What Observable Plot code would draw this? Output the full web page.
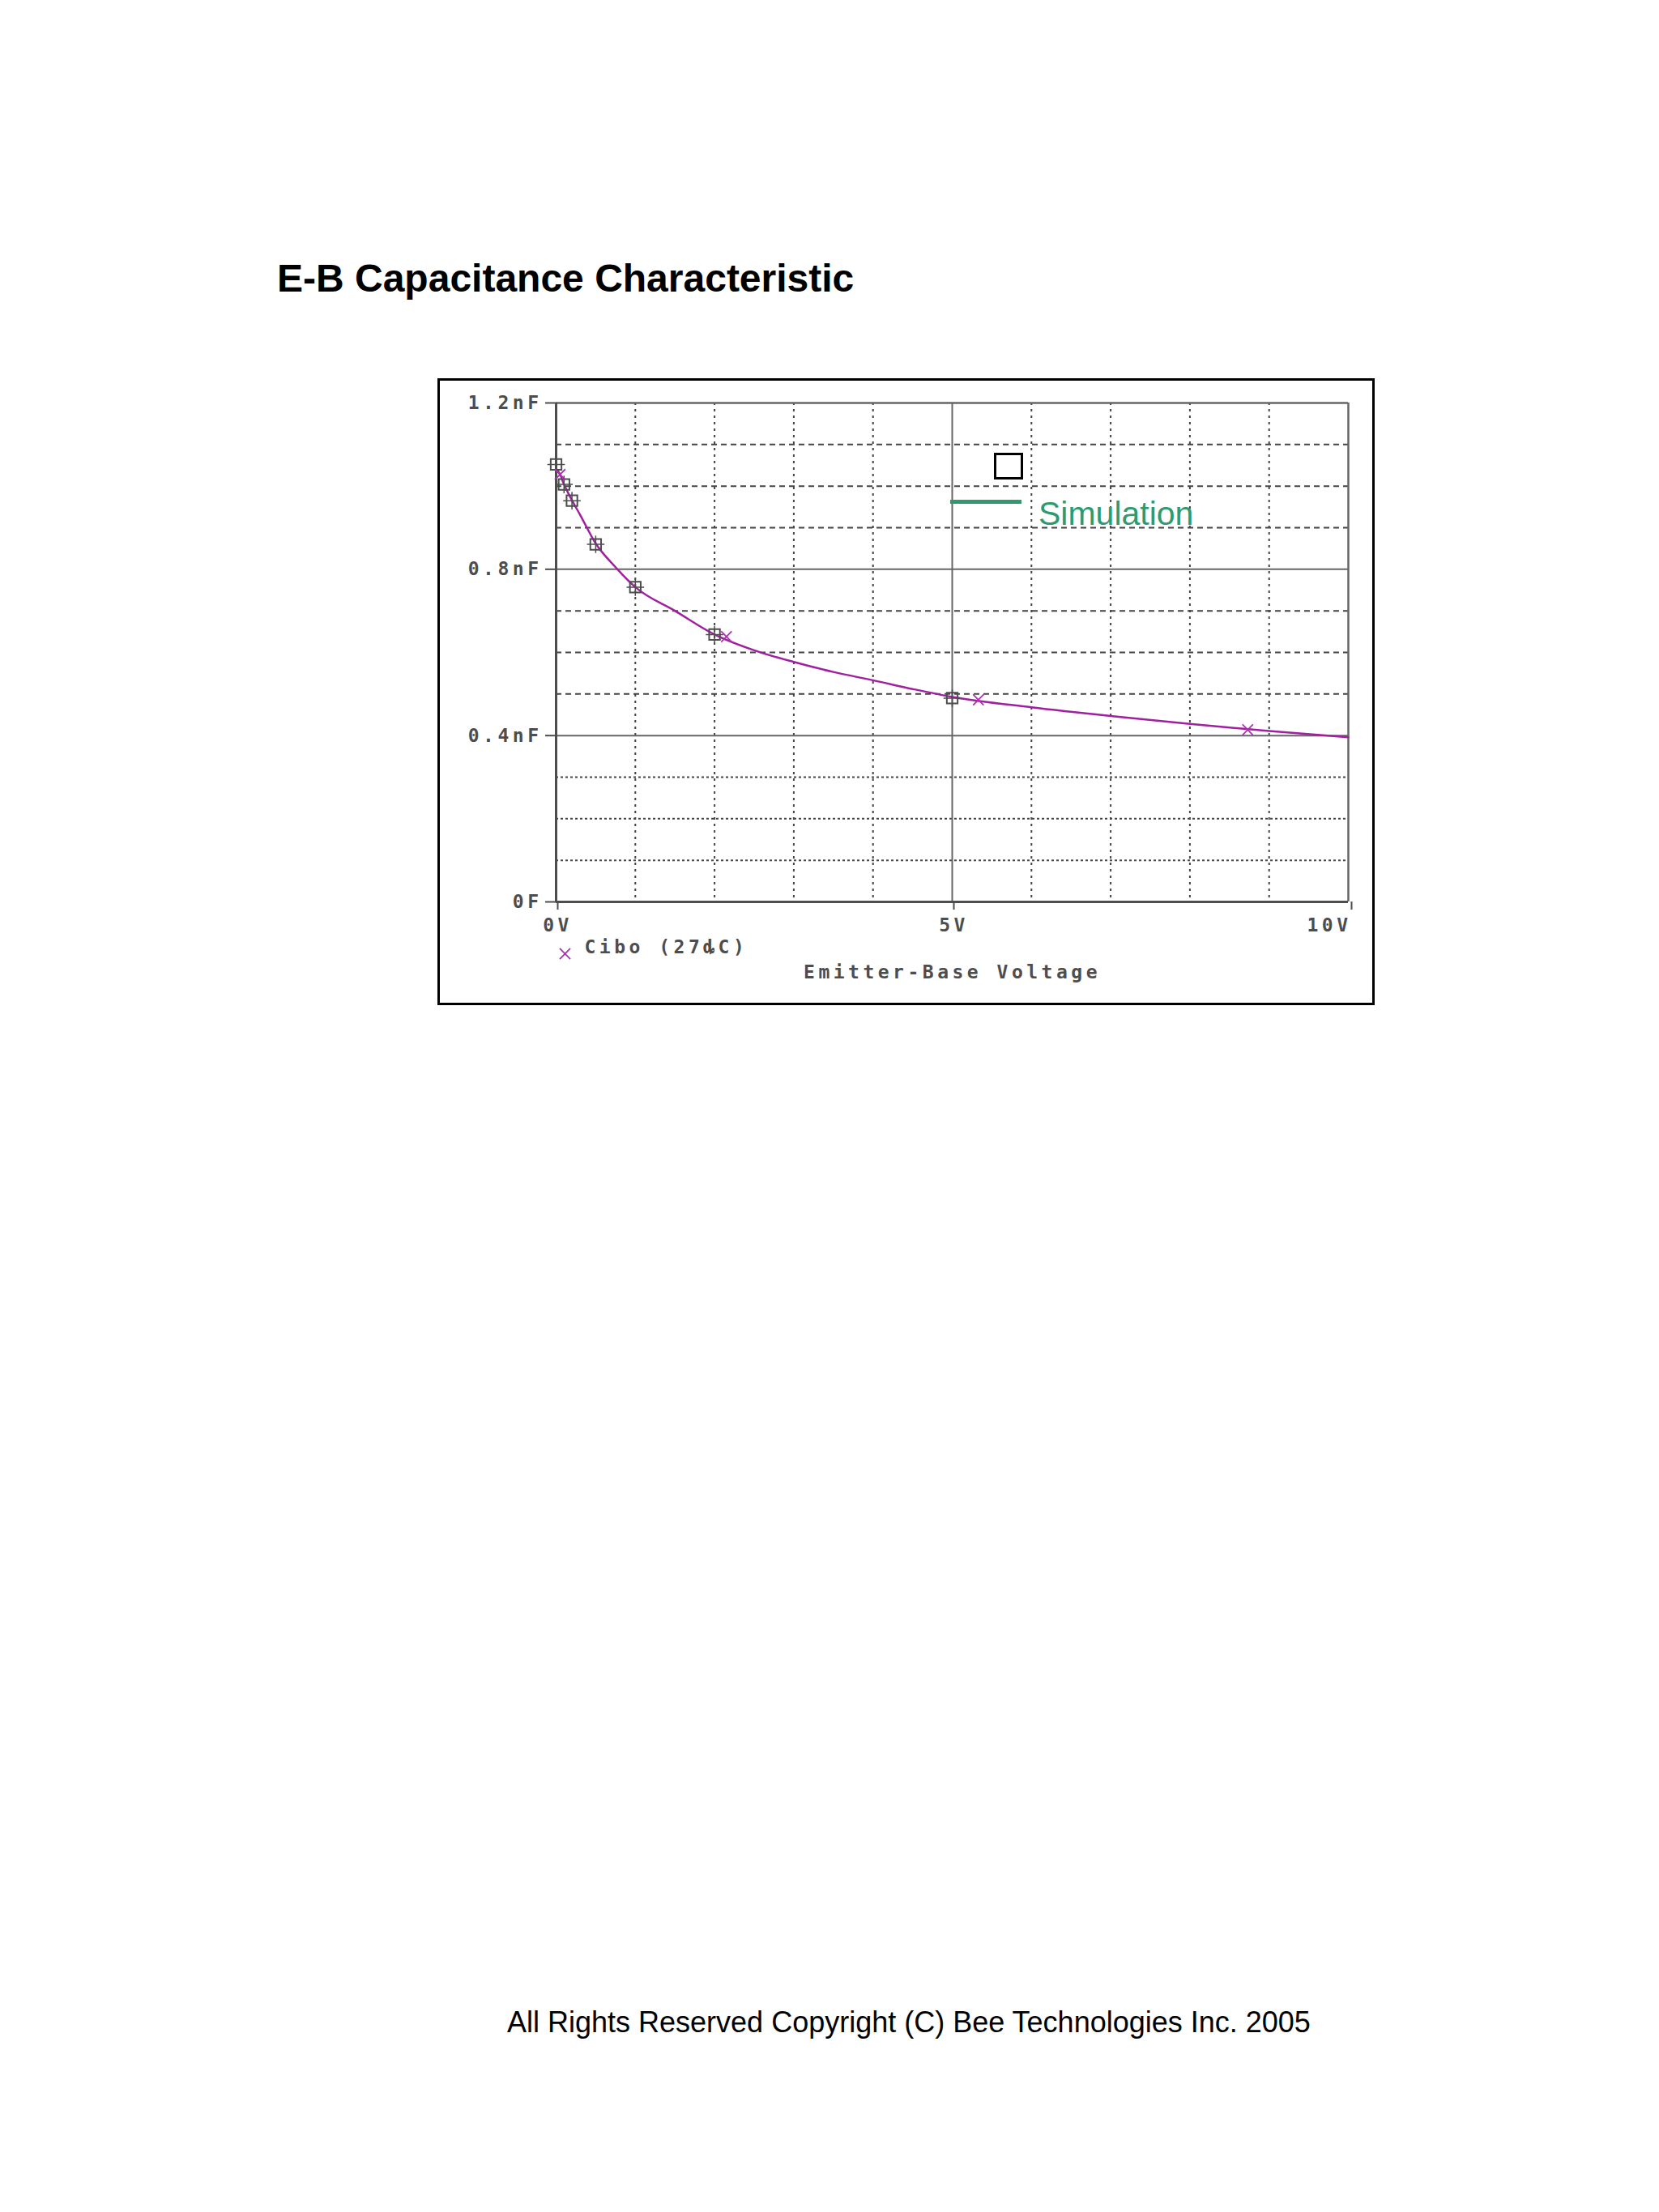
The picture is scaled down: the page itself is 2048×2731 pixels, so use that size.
<!DOCTYPE html>
<html>
<head>
<meta charset="utf-8">
<script src="https://cdn.jsdelivr.net/npm/d3@7"></script>
<script src="https://cdn.jsdelivr.net/npm/@observablehq/plot@0.6"></script>
<style>
  html, body { margin: 0; padding: 0; background: #fff; }
  body { width: 2048px; height: 2731px; position: relative; overflow: hidden; }
  .abs { position: absolute; line-height: 1; white-space: nowrap; }
  #title { left: 342px; top: 316px; font: bold 48px "Liberation Sans", Arial, sans-serif; color: #000; }
  #copyright { left: 626px; top: 2476px; font: 36px "Liberation Sans", Arial, sans-serif; color: #000; }
  #chart { position: absolute; left: 540px; top: 467px; }
  #chart svg { display: block; border: 3px solid #000; }
  #chart svg text { letter-spacing: 4.5px; font-weight: bold; }
  #legSquare { left: 1227px; top: 559px; width: 30px; height: 27px; border: 3px solid #000; background: #fff; }
  #legLine { left: 1173px; top: 617px; width: 88px; height: 5px; background: #2f9a6e; }
  #legText { left: 1282px; top: 611px; font: 41px "Liberation Sans", Arial, sans-serif; color: #2f9a6e; }
</style>
</head>
<body>
<div id="title" class="abs">E-B Capacitance Characteristic</div>
<div id="chart"></div>
<div id="legSquare" class="abs"></div>
<div id="legLine" class="abs"></div>
<div id="legText" class="abs">Simulation</div>
<div id="copyright" class="abs">All Rights Reserved Copyright (C) Bee Technologies Inc. 2005</div>
<script>
// Measured data (square markers)
const measV = [0, 0.1, 0.2, 0.5, 1, 2, 5];
const measC = [1.052, 1.004, 0.965, 0.860, 0.757, 0.643, 0.490];
// Simulation curve (nF)
const simV = [0, 0.05, 0.1, 0.2, 0.3, 0.5, 0.75, 1, 1.5, 2, 2.5, 3, 3.5, 4, 4.5, 5, 6, 7, 8, 9, 10];
const simC = [1.042, 1.028, 1.004, 0.966, 0.932, 0.862, 0.805, 0.757, 0.700, 0.643, 0.605, 0.577, 0.553, 0.533, 0.512, 0.493, 0.468, 0.447, 0.428, 0.411, 0.396];
// Simulation sample markers (x)
const markV = [0.05, 2.15, 5.33, 8.73];
const markC = [1.028, 0.638, 0.486, 0.414];
// Grid
const minorX = [1, 2, 3, 4, 6, 7, 8, 9];
const majorX = [5];
const upperY = [0.5, 0.6, 0.7, 0.9, 1.0, 1.1];
const lowerY = [0.1, 0.2, 0.3];
const majorY = [0.4, 0.8];
// Ticks
const yTicks = [0, 0.4, 0.8, 1.2];
const yTickLabels = ["0F", "0.4nF", "0.8nF", "1.2nF"];
const xTicks = [0, 5, 10];
const xTickLabels = ["0V", "5V", "10V"];
const seriesLabel = "Cibo (27ȡC)";
const xLabel = "Emitter-Base Voltage";

const sim = simV.map((v, i) => ({v, c: simC[i]}));
const meas = measV.map((v, i) => ({v, c: measC[i]}));
const marks = markV.map((v, i) => ({v, c: markC[i]}));

const grey = "#4d4d4d";
const magenta = "#a0209f";
const xFmt = d => xTickLabels[xTicks.indexOf(d)];

const chart = Plot.plot({
  width: 1151,
  height: 768,
  marginLeft: 143,
  marginRight: 30,
  marginTop: 27,
  marginBottom: 125,
  x: {domain: [0, 10]},
  y: {domain: [0, 1.2]},
  style: {fontFamily: "'DejaVu Sans Mono', monospace", fontWeight: "bold", fontSize: "23px", color: grey, background: "#fff", overflow: "visible"},
  marks: [
    Plot.ruleX(minorX, {stroke: "#444", strokeWidth: 2, strokeDasharray: "3,5"}),
    Plot.ruleY(lowerY, {stroke: "#444", strokeWidth: 2, strokeDasharray: "3,3"}),
    Plot.ruleY(upperY, {stroke: "#444", strokeWidth: 2, strokeDasharray: "7,5"}),
    Plot.ruleY(majorY, {stroke: "#666", strokeWidth: 2}),
    Plot.ruleX(majorX, {stroke: "#666", strokeWidth: 2}),
    Plot.ruleY([1.2], {stroke: "#666", strokeWidth: 2.5}),
    Plot.ruleX([10], {stroke: "#666", strokeWidth: 2.5}),
    Plot.ruleY([0], {stroke: grey, strokeWidth: 3}),
    Plot.ruleX([0], {stroke: grey, strokeWidth: 3}),
    Plot.axisY({ticks: yTicks, tickFormat: d => yTickLabels[yTicks.indexOf(d)], tickSize: 13, tickPadding: 4, label: null, stroke: grey, strokeWidth: 2}),
    Plot.axisX({ticks: xTicks.slice(0, 2), tickFormat: xFmt, tickSize: 10, tickPadding: 10, label: null, stroke: grey, strokeWidth: 2, dx: 2}),
    Plot.axisX({ticks: xTicks.slice(2), tickFormat: xFmt, tickSize: 10, tickPadding: 10, label: null, stroke: grey, strokeWidth: 2, textAnchor: "end", dx: 4}),
    Plot.line(sim, {x: "v", y: "c", stroke: magenta, strokeWidth: 2.5, curve: "monotone-x"}),
    Plot.dot(meas, {x: "v", y: "c", symbol: "square", r: 7.5, stroke: grey, strokeWidth: 2, fill: "none"}),
    Plot.dot(meas, {x: "v", y: "c", symbol: "plus", r: 7, stroke: grey, strokeWidth: 1.5}),
    Plot.dot(marks, {x: "v", y: "c", symbol: "times", r: 6, stroke: "#b030b0", strokeWidth: 1.8}),
    Plot.dot([seriesLabel], {frameAnchor: "bottom-left", dx: 11, dy: 64, symbol: "times", r: 6, stroke: "#b030b0", strokeWidth: 1.8}),
    Plot.text([seriesLabel], {text: d => d, frameAnchor: "bottom-left", dx: 35, dy: 63, textAnchor: "start", fill: grey}),
    Plot.text([xLabel], {text: d => d, frameAnchor: "bottom", dy: 94, fill: grey})
  ]
});
document.getElementById("chart").appendChild(chart);
</script>
</body>
</html>
